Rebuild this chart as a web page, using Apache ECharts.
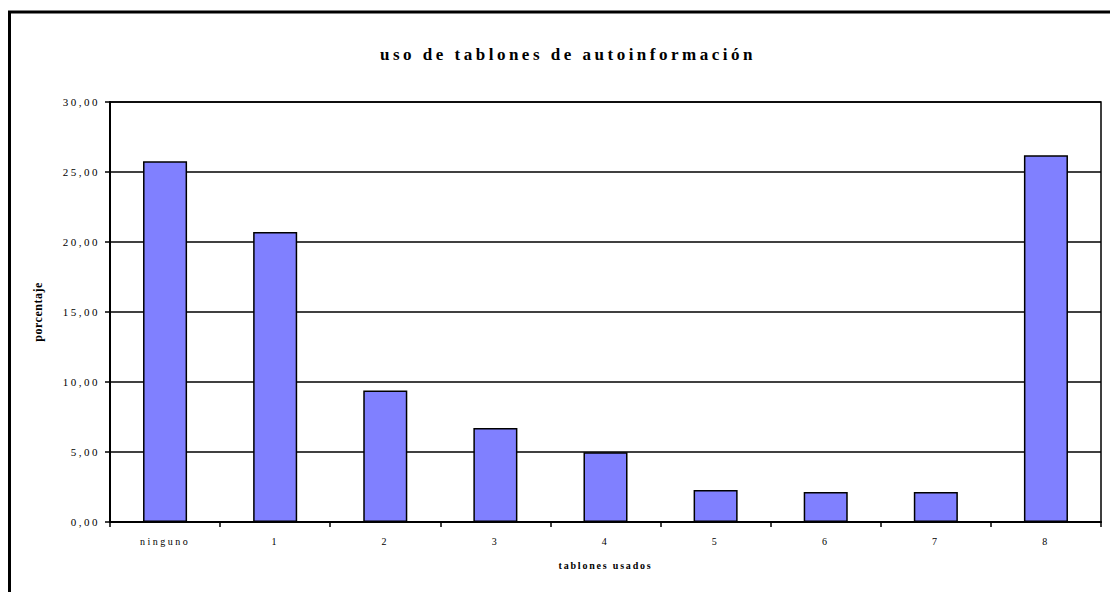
<!DOCTYPE html>
<html>
<head>
<meta charset="utf-8">
<script src="https://cdn.jsdelivr.net/npm/echarts@6/dist/echarts.min.js"></script>
<style>
  html, body { margin: 0; padding: 0; background: #fff; }
  #chart { width: 1110px; height: 592px; }
  #chart text { letter-spacing: 2.5px; }
</style>
</head>
<body>
<div id="chart"></div>
<script>
// Number of self-information boards used, as a percentage of respondents
const categories = ['ninguno', '1', '2', '3', '4', '5', '6', '7', '8'];
const porcentaje = [25.76, 20.71, 9.40, 6.71, 4.98, 2.29, 2.14, 2.14, 26.19];
const yTicks = { min: 0, max: 30, interval: 5 };

const serif = '"Liberation Serif", "Times New Roman", serif';
const chart = echarts.init(document.getElementById('chart'), null, { renderer: 'svg' });

chart.setOption({
  backgroundColor: '#ffffff',
  animation: false,
  title: {
    text: 'uso de tablones de autoinformación',
    left: 375,
    top: 41,
    textStyle: { fontFamily: serif, fontSize: 17, fontWeight: 'bold', color: '#000' }
  },
  graphic: [{
    type: 'rect',
    shape: { x: 9.5, y: 12, width: 1200, height: 700 },
    style: { fill: 'none', stroke: '#000', lineWidth: 3 },
    silent: true
  }],
  grid: {
    left: 110, right: 9, top: 102, bottom: 70,
    show: true, borderColor: '#000', borderWidth: 1.5, backgroundColor: 'transparent'
  },
  xAxis: {
    type: 'category',
    data: categories,
    name: 'tablones usados',
    nameLocation: 'middle',
    nameGap: 38,
    nameTextStyle: { fontFamily: serif, fontSize: 10, fontWeight: 'bold', color: '#000' },
    axisLine: { lineStyle: { color: '#000', width: 2 } },
    axisTick: { show: true, length: 5, inside: false, lineStyle: { color: '#000', width: 1.5 } },
    axisLabel: { fontFamily: serif, fontSize: 10, color: '#000', margin: 14 }
  },
  yAxis: {
    type: 'value',
    min: yTicks.min, max: yTicks.max, interval: yTicks.interval,
    name: 'porcentaje',
    nameLocation: 'middle',
    nameGap: 66,
    nameTextStyle: { fontFamily: serif, fontSize: 12, fontWeight: 'bold', color: '#000' },
    axisLine: { show: true, lineStyle: { color: '#000', width: 2 } },
    axisTick: { show: true, length: 5, lineStyle: { color: '#000', width: 1.5 } },
    axisLabel: {
      fontFamily: serif, fontSize: 11, color: '#000', margin: 10,
      formatter: v => v.toFixed(2).replace('.', ',')
    },
    splitLine: { show: true, lineStyle: { color: '#000', width: 1.5 } }
  },
  series: [{
    type: 'bar',
    data: porcentaje,
    barCategoryGap: '60%',
    itemStyle: { color: '#8080ff', borderColor: '#000', borderWidth: 1.5 }
  }]
});

// per-label tracking
const tracking = {
  'uso de tablones de autoinformación': '3.5px',
  'porcentaje': '0.5px',
  'tablones usados': '1.8px'
};
document.querySelectorAll('#chart text').forEach(t => {
  if (tracking[t.textContent]) t.style.letterSpacing = tracking[t.textContent];
});
</script>
</body>
</html>
